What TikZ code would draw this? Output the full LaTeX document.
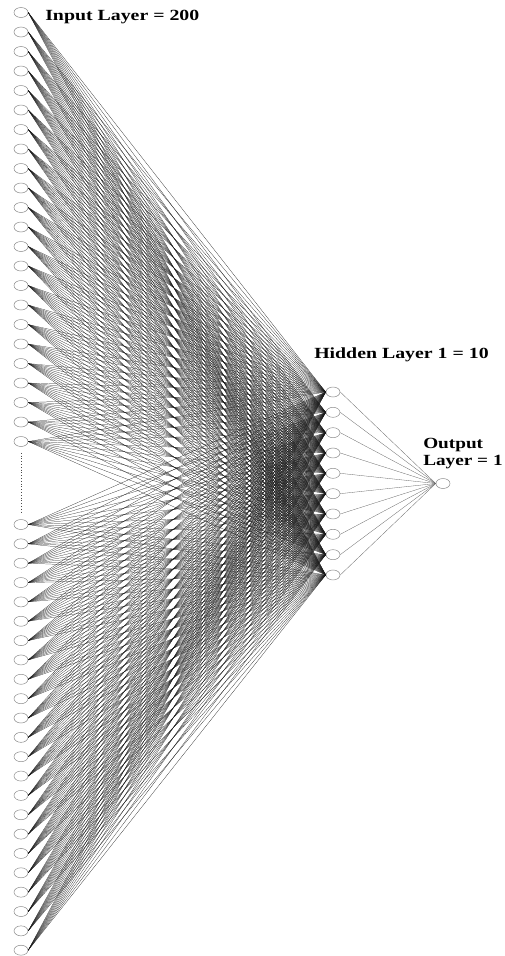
\documentclass[tikz,border=0pt]{standalone}
\usepackage{fontspec}
\setmainfont{Liberation Serif}
\usetikzlibrary{shapes.geometric}

\begin{document}
\begin{tikzpicture}[x = 1pt, y = -1pt,
            neuron/.style = {ellipse, draw = black!45, line width = 0.5pt,
                minimum width = 14pt, minimum height = 10pt, inner sep = 0pt},
            wire/.style = {black!90, line width = 0.22pt},
            lbl/.style = {font = \bfseries\fontsize{15.5}{17}\selectfont,
                xscale = 1.28, inner sep = 0pt, anchor = west, align = left}]
            \useasboundingbox (0,0) rectangle (505,956);
            % input layer: first and last block
            \foreach \i in {1,...,23}
                \node[neuron] (I\i) at (21, {12.5 + 19.5*(\i-1)}) {};
            \foreach \i in {24,...,46}
                \node[neuron] (I\i) at (21, {524.5 + 19.35*(\i-24)}) {};
            % hidden and output layer
            \foreach \j in {1,...,10}
                \node[neuron] (H\j) at (333, {392 + 20.33*(\j-1)}) {};
            \node[neuron] (O) at (443, 483.5) {};
            % connections
            \foreach \i in {1,...,46}
                \foreach \j in {1,...,10}
                    \draw[wire] (I\i.east) -- (H\j.west);
            \foreach \j in {1,...,10}
                \draw[black!60, line width = 0.3pt] (H\j.east) -- (O.west);
            \draw[black!70, dotted, line width = 0.8pt, shorten <= 6pt, shorten >= 6pt] (I23.south) -- (I24.north);
            % labels
            \node[lbl] (inlbl) at (45, 17) {Input Layer = 200};
            \node[lbl] (hidlbl) at (314, 355) {Hidden Layer 1 = 10};
            \node[lbl, xscale = 0.97] (outlbl) at (423, 454) {Output\\Layer = 1};
        \end{tikzpicture}
\end{document}
